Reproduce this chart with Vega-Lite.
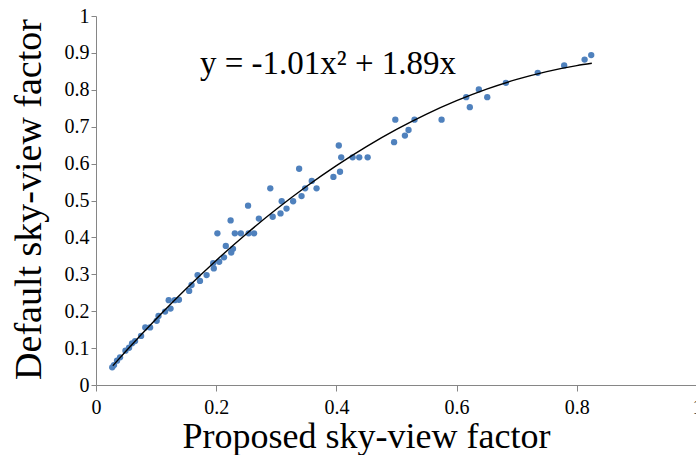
{
  "$schema": "https://vega.github.io/schema/vega-lite/v6.json",
  "width": 601,
  "height": 369,
  "autosize": {"type": "none"},
  "padding": {"left": 96, "top": 16, "right": 0, "bottom": 70},
  "background": "white",
  "config": {
    "view": {"stroke": null},
    "font": "Liberation Serif",
    "axis": {
      "grid": false,
      "domainColor": "#868686",
      "tickColor": "#868686",
      "labelColor": "black",
      "titleColor": "black",
      "labelFont": "Liberation Serif",
      "titleFont": "Liberation Serif",
      "labelFontSize": 20,
      "titleFontSize": 36,
      "titleFontWeight": "normal",
      "labelOverlap": false,
      "labelFlush": false,
      "labelBound": false
    }
  },
  "datasets": {
    "pts": [
      {"x": 0.027, "y": 0.048}, {"x": 0.030, "y": 0.054}, {"x": 0.035, "y": 0.066}, {"x": 0.040, "y": 0.075},
      {"x": 0.049, "y": 0.093}, {"x": 0.055, "y": 0.101}, {"x": 0.060, "y": 0.113}, {"x": 0.065, "y": 0.119},
      {"x": 0.075, "y": 0.133}, {"x": 0.082, "y": 0.156}, {"x": 0.090, "y": 0.156}, {"x": 0.101, "y": 0.174},
      {"x": 0.104, "y": 0.187}, {"x": 0.115, "y": 0.199}, {"x": 0.124, "y": 0.207}, {"x": 0.121, "y": 0.230},
      {"x": 0.131, "y": 0.230}, {"x": 0.138, "y": 0.231}, {"x": 0.155, "y": 0.255}, {"x": 0.159, "y": 0.271},
      {"x": 0.169, "y": 0.298}, {"x": 0.173, "y": 0.282}, {"x": 0.184, "y": 0.298}, {"x": 0.196, "y": 0.316},
      {"x": 0.195, "y": 0.330}, {"x": 0.205, "y": 0.334}, {"x": 0.213, "y": 0.346}, {"x": 0.225, "y": 0.359},
      {"x": 0.228, "y": 0.369}, {"x": 0.216, "y": 0.377}, {"x": 0.202, "y": 0.411}, {"x": 0.224, "y": 0.446},
      {"x": 0.231, "y": 0.411}, {"x": 0.241, "y": 0.411}, {"x": 0.254, "y": 0.411}, {"x": 0.263, "y": 0.411},
      {"x": 0.253, "y": 0.486}, {"x": 0.271, "y": 0.451}, {"x": 0.290, "y": 0.533}, {"x": 0.294, "y": 0.456},
      {"x": 0.307, "y": 0.465}, {"x": 0.309, "y": 0.498}, {"x": 0.317, "y": 0.478}, {"x": 0.328, "y": 0.498},
      {"x": 0.338, "y": 0.586}, {"x": 0.342, "y": 0.512}, {"x": 0.348, "y": 0.533}, {"x": 0.359, "y": 0.553},
      {"x": 0.367, "y": 0.533}, {"x": 0.395, "y": 0.564}, {"x": 0.406, "y": 0.578}, {"x": 0.404, "y": 0.649},
      {"x": 0.408, "y": 0.617}, {"x": 0.427, "y": 0.617}, {"x": 0.438, "y": 0.617}, {"x": 0.452, "y": 0.617},
      {"x": 0.496, "y": 0.658}, {"x": 0.498, "y": 0.719}, {"x": 0.514, "y": 0.676}, {"x": 0.520, "y": 0.691},
      {"x": 0.530, "y": 0.719}, {"x": 0.575, "y": 0.719}, {"x": 0.616, "y": 0.780}, {"x": 0.622, "y": 0.753},
      {"x": 0.637, "y": 0.801}, {"x": 0.651, "y": 0.780}, {"x": 0.682, "y": 0.819}, {"x": 0.735, "y": 0.846},
      {"x": 0.779, "y": 0.866}, {"x": 0.813, "y": 0.882}, {"x": 0.824, "y": 0.894}
    ],
    "curve": [
      {"x": 0.028, "y": 0.0521}, {"x": 0.05, "y": 0.092}, {"x": 0.1, "y": 0.1789}, {"x": 0.15, "y": 0.2608},
      {"x": 0.2, "y": 0.3376}, {"x": 0.25, "y": 0.4094}, {"x": 0.3, "y": 0.4761}, {"x": 0.35, "y": 0.5378},
      {"x": 0.4, "y": 0.5944}, {"x": 0.45, "y": 0.646}, {"x": 0.5, "y": 0.6925}, {"x": 0.55, "y": 0.734},
      {"x": 0.6, "y": 0.7704}, {"x": 0.65, "y": 0.8018}, {"x": 0.7, "y": 0.8281}, {"x": 0.75, "y": 0.8494},
      {"x": 0.8, "y": 0.8656}, {"x": 0.825, "y": 0.8718}
    ],
    "eq": [{"x": 0.173, "y": 0.844, "label": "y = -1.01x² + 1.89x"}]
  },
  "layer": [
    {
      "data": {"name": "pts"},
      "mark": {"type": "point", "filled": true, "size": 40, "opacity": 1, "color": "#4F81BD"},
      "encoding": {
        "x": {
          "field": "x", "type": "quantitative",
          "scale": {"domain": [0, 1], "nice": false, "zero": true},
          "axis": {
            "values": [0, 0.2, 0.4, 0.6, 0.8, 1], "format": "~g",
            "title": "Proposed sky-view factor",
            "tickSize": 6, "labelPadding": 6, "labelOverlap": false,
            "titleX": 270, "titleY": 62, "titleBaseline": "alphabetic", "titleAlign": "center", "titleAnchor": null
          }
        },
        "y": {
          "field": "y", "type": "quantitative",
          "scale": {"domain": [0, 1], "nice": false, "zero": true},
          "axis": {
            "values": [0, 0.1, 0.2, 0.3, 0.4, 0.5, 0.6, 0.7, 0.8, 0.9, 1], "format": "~g",
            "title": "Default sky-view factor",
            "tickSize": 5, "labelPadding": 2, "labelOverlap": false, "tickCount": 11,
            "titleFontSize": 38,
            "titleX": -56, "titleY": 183, "titleBaseline": "alphabetic", "titleAlign": "center", "titleAnchor": null, "titleAngle": -90
          }
        }
      }
    },
    {
      "data": {"name": "curve"},
      "mark": {"type": "line", "color": "black", "strokeWidth": 1.4, "interpolate": "monotone"},
      "encoding": {
        "x": {"field": "x", "type": "quantitative"},
        "y": {"field": "y", "type": "quantitative"}
      }
    },
    {
      "data": {"name": "eq"},
      "mark": {"type": "text", "align": "left", "baseline": "alphabetic", "fontSize": 33, "font": "Liberation Serif", "color": "black"},
      "encoding": {
        "x": {"field": "x", "type": "quantitative"},
        "y": {"field": "y", "type": "quantitative"},
        "text": {"field": "label"}
      }
    }
  ]
}
